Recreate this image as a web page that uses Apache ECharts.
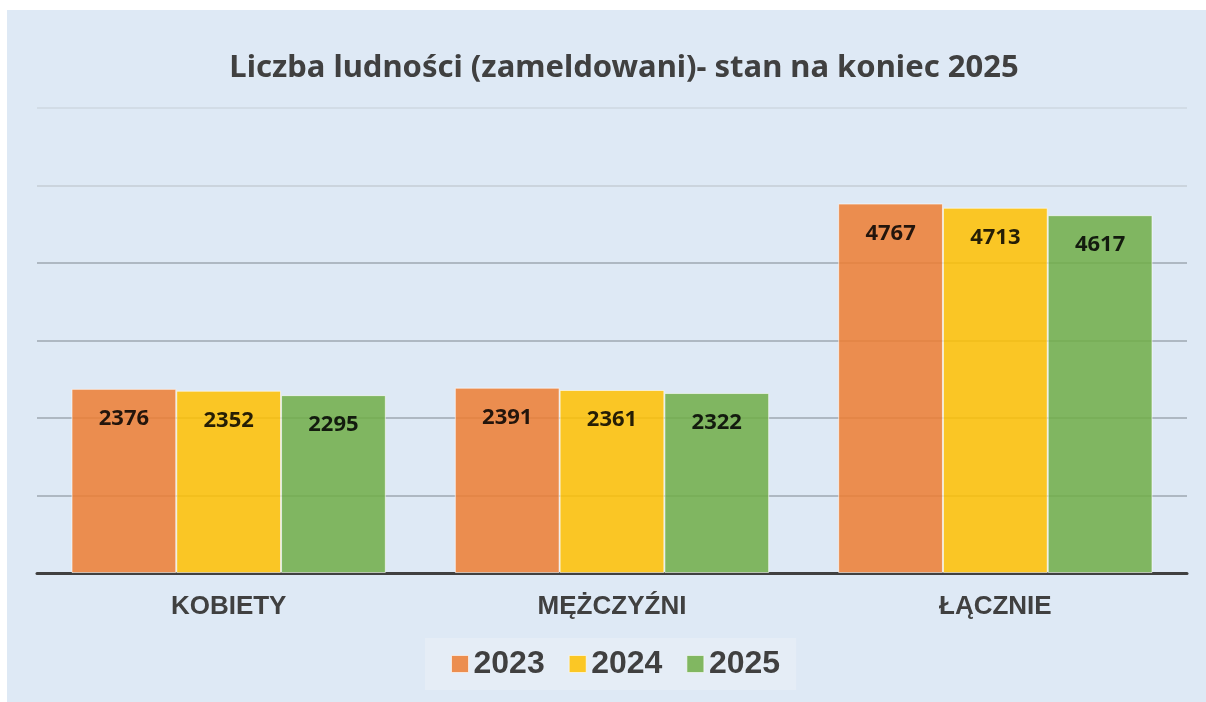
<!DOCTYPE html>
<html>
  <head>
    <meta charset="utf-8" />
    <title>Liczba ludności</title>
    <script src="https://cdn.jsdelivr.net/npm/echarts@6/dist/echarts.min.js"></script>
    <style>
      html, body { margin: 0; padding: 0; background: #ffffff; }
      #main { position: absolute; left: 7px; top: 10px; width: 1199px; height: 692px; }
    </style>
  </head>
  <body>
    <div id="main"></div>
    <script type="text/javascript">
      // dane z wykresu
      var categories = ['KOBIETY', 'MĘŻCZYŹNI', 'ŁĄCZNIE'];
      var years = ['2023', '2024', '2025'];
      var values2023 = [2376, 2391, 4767];
      var values2024 = [2352, 2361, 4713];
      var values2025 = [2295, 2322, 4617];
      var colors = ['#ED7D31', '#FFC000', '#70AD47'];

      var chartDom = document.getElementById('main');
      var myChart = echarts.init(chartDom);
      var option;

      function makeSeries(name, data, color) {
        return {
          name: name,
          type: 'bar',
          data: data,
          barGap: 0,
          barCategoryGap: '18%',
          itemStyle: {
            color: color,
            opacity: 0.85,
            borderColor: 'rgba(255,255,255,0.7)',
            borderWidth: 1
          },
          label: {
            show: true,
            position: 'insideTop',
            distance: 19,
            color: '#000000',
            fontFamily: 'Noto Sans',
            fontWeight: 'bold',
            fontSize: 22
          }
        };
      }

      option = {
        backgroundColor: '#dee9f5',
        animation: false,
        title: {
          text: 'Liczba ludności (zameldowani)- stan na koniec 2025',
          left: 612,
          top: 38,
          textAlign: 'center',
          textStyle: {
            color: '#404040',
            fontFamily: 'Noto Sans',
            fontWeight: 'bold',
            fontSize: 31
          }
        },
        legend: {
          data: years,
          icon: 'rect',
          left: 418,
          top: 628,
          backgroundColor: '#e5edf6',
          padding: [10, 16, 10, 26],
          itemWidth: 17,
          itemHeight: 17,
          itemGap: 24,
          itemStyle: { opacity: 0.85, borderColor: 'rgba(255,255,255,0.7)', borderWidth: 1 },
          textStyle: {
            color: '#404040',
            fontFamily: 'Liberation Sans',
            fontWeight: 'bold',
            fontSize: 32
          }
        },
        grid: {
          left: 30,
          right: 19,
          top: 98,
          bottom: 129,
          containLabel: false
        },
        xAxis: {
          type: 'category',
          data: categories,
          axisTick: { show: false },
          axisLine: { lineStyle: { color: '#404040', width: 3 } },
          axisLabel: {
            margin: 21,
            color: '#404040',
            fontFamily: 'Liberation Sans',
            fontWeight: 'bold',
            fontSize: 26
          }
        },
        yAxis: {
          type: 'value',
          min: 0,
          max: 6000,
          interval: 1000,
          axisLabel: { show: false },
          axisLine: { show: false },
          axisTick: { show: false },
          splitLine: {
            lineStyle: {
              width: 1.5,
              color: ['#9ea7b1', '#9ea7b1', '#9ea7b1', '#9ea7b1', '#9ea7b1', '#c4ccd4', '#ced7e0']
            }
          }
        },
        series: [
          makeSeries(years[0], values2023, colors[0]),
          makeSeries(years[1], values2024, colors[1]),
          makeSeries(years[2], values2025, colors[2])
        ]
      };

      option && myChart.setOption(option);
    </script>
  </body>
</html>
